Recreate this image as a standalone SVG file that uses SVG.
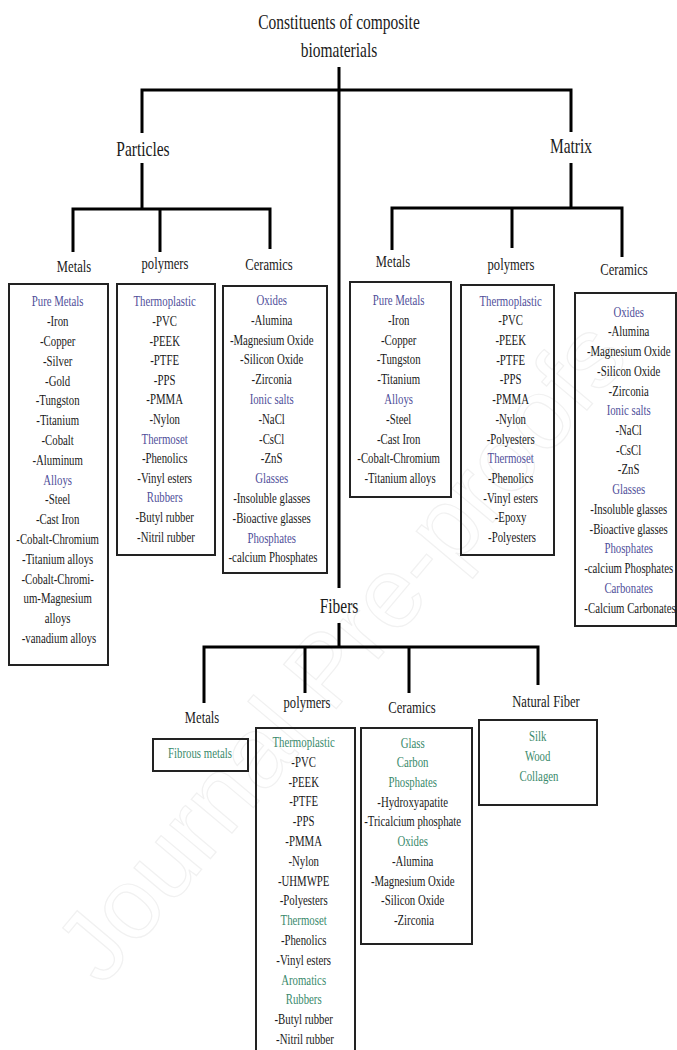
<svg xmlns="http://www.w3.org/2000/svg" width="677" height="1050" viewBox="0 0 677 1050">
<style>
text{font-family:"Liberation Serif","Times New Roman",serif;fill:#1a1a1a;text-anchor:middle}
.h1{font-size:21.5px}
.h2{font-size:17.5px}
.t{font-size:15px}
.b{fill:#50509a}
.g{fill:#3a8a6c}
.box{fill:none;stroke:#222;stroke-width:2}
.wm{font-family:"Liberation Sans",Arial,sans-serif;font-size:100px;fill:none;stroke:#f1f1f1;stroke-width:1.2}
</style>
<rect width="677" height="1050" fill="#fff"/>
<text class="wm" transform="translate(340 650) rotate(-50)" x="0" y="35">Journal Pre-proofs</text>

<g id="connectors" fill="none" stroke="#000" stroke-width="3" stroke-linejoin="miter" stroke-linecap="butt">
<line x1="339" y1="67" x2="339" y2="588"/>
<polyline points="142,133 142,90 571,90 571,132"/>
<line x1="142" y1="163" x2="142" y2="209"/>
<polyline points="73,252 73,209 270,209 270,249"/>
<line x1="160" y1="209" x2="160" y2="252"/>
<line x1="571" y1="163" x2="571" y2="208"/>
<polyline points="392,250 392,208 622,208 622,257"/>
<line x1="512" y1="208" x2="512" y2="248"/>
<line x1="339" y1="623" x2="339" y2="647"/>
<polyline points="204,703 204,647 538,647 538,685"/>
<line x1="305" y1="647" x2="305" y2="693"/>
<line x1="409" y1="647" x2="409" y2="693"/>
</g>

<g id="title">
<text class="h1" transform="translate(339 0) scale(.72 1)" x="0" y="29">Constituents of composite</text>
<text class="h1" transform="translate(339 0) scale(.72 1)" x="0" y="57">biomaterials</text>
</g>
<g id="particles"><text class="h1" transform="translate(143 0) scale(.72 1)" x="0" y="156">Particles</text></g>
<g id="matrix"><text class="h1" transform="translate(571 0) scale(.72 1)" x="0" y="153">Matrix</text></g>
<g id="fibers"><text class="h1" transform="translate(339 0) scale(.72 1)" x="0" y="613">Fibers</text></g>

<g id="p-metals">
<text class="h2" transform="translate(74 0) scale(.72 1)" x="0" y="272">Metals</text>
<rect class="box" x="9" y="284" width="99" height="381"/>
<text class="t" transform="translate(59 0) scale(.72 1)">
<tspan class="b" x="0" y="306.5">Pure Metals</tspan>
<tspan x="0" y="326.3">-Iron</tspan>
<tspan x="0" y="346.1">-Copper</tspan>
<tspan x="0" y="365.9">-Silver</tspan>
<tspan x="0" y="385.7">-Gold</tspan>
<tspan x="0" y="405.5">-Tungston</tspan>
<tspan x="0" y="425.3">-Titanium</tspan>
<tspan x="0" y="445.1">-Cobalt</tspan>
<tspan x="0" y="464.9">-Aluminum</tspan>
<tspan class="b" x="0" y="484.7">Alloys</tspan>
<tspan x="0" y="504.5">-Steel</tspan>
<tspan x="0" y="524.3">-Cast Iron</tspan>
<tspan x="0" y="544.1">-Cobalt-Chromium</tspan>
<tspan x="0" y="563.9">-Titanium alloys</tspan>
<tspan x="0" y="583.7">-Cobalt-Chromi-</tspan>
<tspan x="0" y="603.5">um-Magnesium</tspan>
<tspan x="0" y="623.3">alloys</tspan>
<tspan x="0" y="643.1">-vanadium alloys</tspan>
</text>
</g>

<g id="p-polymers">
<text class="h2" transform="translate(165 0) scale(.72 1)" x="0" y="269">polymers</text>
<rect class="box" x="117" y="284" width="98" height="271"/>
<text class="t" transform="translate(166 0) scale(.72 1)">
<tspan class="b" x="0" y="306.5">Thermoplastic</tspan>
<tspan x="0" y="326.1">-PVC</tspan>
<tspan x="0" y="345.7">-PEEK</tspan>
<tspan x="0" y="365.3">-PTFE</tspan>
<tspan x="0" y="384.9">-PPS</tspan>
<tspan x="0" y="404.5">-PMMA</tspan>
<tspan x="0" y="424.1">-Nylon</tspan>
<tspan class="b" x="0" y="443.7">Thermoset</tspan>
<tspan x="0" y="463.3">-Phenolics</tspan>
<tspan x="0" y="482.9">-Vinyl esters</tspan>
<tspan class="b" x="0" y="502.5">Rubbers</tspan>
<tspan x="0" y="522.1">-Butyl rubber</tspan>
<tspan x="0" y="541.7">-Nitril rubber</tspan>
</text>
</g>

<g id="p-ceramics">
<text class="h2" transform="translate(269 0) scale(.72 1)" x="0" y="270">Ceramics</text>
<rect class="box" x="223" y="286" width="104" height="287"/>
<text class="t" transform="translate(273 0) scale(.72 1)">
<tspan class="b" x="0" y="305">Oxides</tspan>
<tspan x="0" y="324.8">-Alumina</tspan>
<tspan x="0" y="344.6">-Magnesium Oxide</tspan>
<tspan x="0" y="364.4">-Silicon Oxide</tspan>
<tspan x="0" y="384.2">-Zirconia</tspan>
<tspan class="b" x="0" y="404">Ionic salts</tspan>
<tspan x="0" y="423.8">-NaCl</tspan>
<tspan x="0" y="443.6">-CsCl</tspan>
<tspan x="0" y="463.4">-ZnS</tspan>
<tspan class="b" x="0" y="483.2">Glasses</tspan>
<tspan x="0" y="503">-Insoluble glasses</tspan>
<tspan x="0" y="522.8">-Bioactive glasses</tspan>
<tspan class="b" x="0" y="542.6">Phosphates</tspan>
<tspan x="0" y="562.4">-calcium Phosphates</tspan>
</text>
</g>

<g id="m-metals">
<text class="h2" transform="translate(393 0) scale(.72 1)" x="0" y="267">Metals</text>
<rect class="box" x="350" y="282" width="101" height="215"/>
<text class="t" transform="translate(400 0) scale(.72 1)">
<tspan class="b" x="0" y="305">Pure Metals</tspan>
<tspan x="0" y="324.8">-Iron</tspan>
<tspan x="0" y="344.6">-Copper</tspan>
<tspan x="0" y="364.4">-Tungston</tspan>
<tspan x="0" y="384.2">-Titanium</tspan>
<tspan class="b" x="0" y="404">Alloys</tspan>
<tspan x="0" y="423.8">-Steel</tspan>
<tspan x="0" y="443.6">-Cast Iron</tspan>
<tspan x="0" y="463.4">-Cobalt-Chromium</tspan>
<tspan x="0" y="483.2">-Titanium alloys</tspan>
</text>
</g>

<g id="m-polymers">
<text class="h2" transform="translate(511 0) scale(.72 1)" x="0" y="270">polymers</text>
<rect class="box" x="461" y="285" width="93" height="270"/>
<text class="t" transform="translate(512 0) scale(.72 1)">
<tspan class="b" x="0" y="305.7">Thermoplastic</tspan>
<tspan x="0" y="325.4">-PVC</tspan>
<tspan x="0" y="345.1">-PEEK</tspan>
<tspan x="0" y="364.8">-PTFE</tspan>
<tspan x="0" y="384.5">-PPS</tspan>
<tspan x="0" y="404.2">-PMMA</tspan>
<tspan x="0" y="423.9">-Nylon</tspan>
<tspan x="0" y="443.6">-Polyesters</tspan>
<tspan class="b" x="0" y="463.3">Thermoset</tspan>
<tspan x="0" y="483">-Phenolics</tspan>
<tspan x="0" y="502.7">-Vinyl esters</tspan>
<tspan x="0" y="522.4">-Epoxy</tspan>
<tspan x="0" y="542.1">-Polyesters</tspan>
</text>
</g>

<g id="m-ceramics">
<text class="h2" transform="translate(624 0) scale(.72 1)" x="0" y="275">Ceramics</text>
<rect class="box" x="575" y="293" width="101" height="333"/>
<text class="t" transform="translate(630 0) scale(.72 1)">
<tspan class="b" x="0" y="316.7">Oxides</tspan>
<tspan x="0" y="336.4">-Alumina</tspan>
<tspan x="0" y="356.2">-Magnesium Oxide</tspan>
<tspan x="0" y="375.9">-Silicon Oxide</tspan>
<tspan x="0" y="395.6">-Zirconia</tspan>
<tspan class="b" x="0" y="415.4">Ionic salts</tspan>
<tspan x="0" y="435.1">-NaCl</tspan>
<tspan x="0" y="454.8">-CsCl</tspan>
<tspan x="0" y="474.5">-ZnS</tspan>
<tspan class="b" x="0" y="494.3">Glasses</tspan>
<tspan x="0" y="514">-Insoluble glasses</tspan>
<tspan x="0" y="533.7">-Bioactive glasses</tspan>
<tspan class="b" x="0" y="553.5">Phosphates</tspan>
<tspan x="0" y="573.2">-calcium Phosphates</tspan>
<tspan class="b" x="0" y="592.9">Carbonates</tspan>
<tspan x="0" y="612.7">-Calcium Carbonates</tspan>
</text>
</g>

<g id="f-metals">
<text class="h2" transform="translate(202 0) scale(.72 1)" x="0" y="723">Metals</text>
<rect class="box" x="153" y="739" width="95" height="32"/>
<text class="t g" transform="translate(200 0) scale(.72 1)" x="0" y="758">Fibrous metals</text>
</g>

<g id="f-polymers">
<text class="h2" transform="translate(307 0) scale(.72 1)" x="0" y="708">polymers</text>
<rect class="box" x="256" y="728" width="99" height="330"/>
<text class="t" transform="translate(305 0) scale(.72 1)">
<tspan class="g" x="0" y="747">Thermoplastic</tspan>
<tspan x="0" y="766.8">-PVC</tspan>
<tspan x="0" y="786.6">-PEEK</tspan>
<tspan x="0" y="806.4">-PTFE</tspan>
<tspan x="0" y="826.2">-PPS</tspan>
<tspan x="0" y="846">-PMMA</tspan>
<tspan x="0" y="865.8">-Nylon</tspan>
<tspan x="0" y="885.6">-UHMWPE</tspan>
<tspan x="0" y="905.4">-Polyesters</tspan>
<tspan class="g" x="0" y="925.2">Thermoset</tspan>
<tspan x="0" y="945">-Phenolics</tspan>
<tspan x="0" y="964.8">-Vinyl esters</tspan>
<tspan class="g" x="0" y="984.6">Aromatics</tspan>
<tspan class="g" x="0" y="1004.4">Rubbers</tspan>
<tspan x="0" y="1024.2">-Butyl rubber</tspan>
<tspan x="0" y="1044">-Nitril rubber</tspan>
</text>
</g>

<g id="f-ceramics">
<text class="h2" transform="translate(412 0) scale(.72 1)" x="0" y="713">Ceramics</text>
<rect class="box" x="361" y="728" width="111" height="216"/>
<text class="t" transform="translate(414 0) scale(.72 1)">
<tspan class="g" x="0" y="747.7">Glass</tspan>
<tspan class="g" x="0" y="767.4">Carbon</tspan>
<tspan class="g" x="0" y="787.1">Phosphates</tspan>
<tspan x="0" y="806.8">-Hydroxyapatite</tspan>
<tspan x="0" y="826.5">-Tricalcium phosphate</tspan>
<tspan class="g" x="0" y="846.2">Oxides</tspan>
<tspan x="0" y="865.9">-Alumina</tspan>
<tspan x="0" y="885.6">-Magnesium Oxide</tspan>
<tspan x="0" y="905.3">-Silicon Oxide</tspan>
<tspan x="0" y="925">-Zirconia</tspan>
</text>
</g>

<g id="f-natural">
<text class="h2" transform="translate(546 0) scale(.72 1)" x="0" y="707">Natural Fiber</text>
<rect class="box" x="479" y="720" width="118" height="85"/>
<text class="t g" transform="translate(539 0) scale(.72 1)">
<tspan x="0" y="741">Silk</tspan>
<tspan x="0" y="761">Wood</tspan>
<tspan x="0" y="781">Collagen</tspan>
</text>
</g>
</svg>
